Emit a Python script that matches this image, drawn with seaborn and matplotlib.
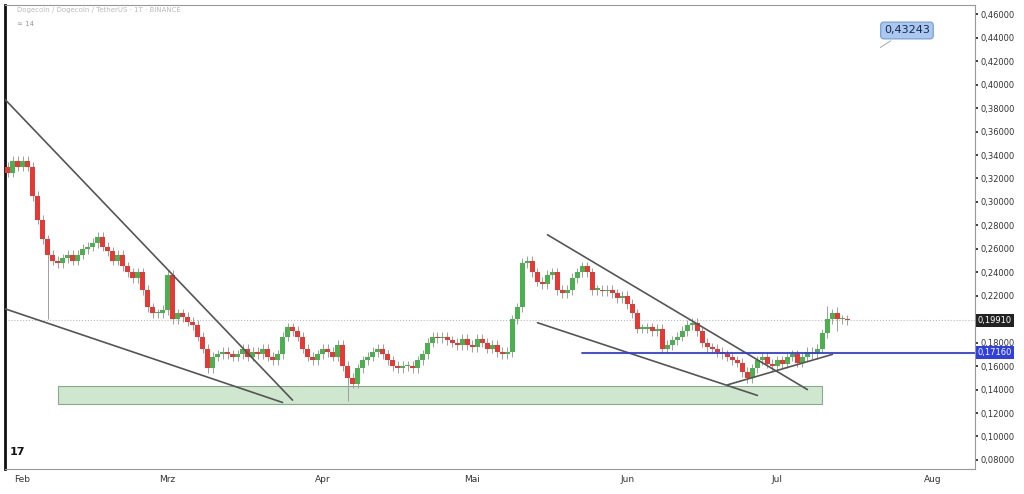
import pandas as pd
import numpy as np
import matplotlib
matplotlib.use("Agg")
import matplotlib.pyplot as plt
import matplotlib.dates as mdates
import seaborn as sns

sns.set_theme(style="white")
plt.rcParams['font.family'] = ['DejaVu Sans']

# Tagesschlusskurse DOGE/USDT, ab 28.01.2024
closes = [
    0.33, 0.325, 0.335, 0.33,
    # Feb
    0.335, 0.33, 0.305, 0.285, 0.268, 0.255, 0.25, 0.248, 0.252, 0.255, 0.25, 0.255, 0.26, 0.262, 0.265,
    0.27, 0.262, 0.258, 0.25, 0.255, 0.245, 0.24, 0.235, 0.24, 0.225, 0.21, 0.205, 0.205, 0.208,
    # Mrz
    0.238, 0.2, 0.205, 0.202, 0.198, 0.195, 0.185, 0.175, 0.158, 0.168, 0.17, 0.172, 0.17, 0.168, 0.17,
    0.175, 0.168, 0.172, 0.17, 0.175, 0.168, 0.165, 0.17, 0.185, 0.193, 0.19, 0.185, 0.175, 0.168, 0.165, 0.17,
    # Apr
    0.175, 0.172, 0.168, 0.178, 0.16, 0.15, 0.145, 0.158, 0.165, 0.168, 0.172, 0.175, 0.17, 0.165, 0.16,
    0.158, 0.16, 0.16, 0.158, 0.165, 0.17, 0.18, 0.185, 0.184, 0.185, 0.182, 0.18, 0.178, 0.183, 0.178,
    # Mai
    0.176, 0.183, 0.18, 0.175, 0.178, 0.172, 0.17, 0.172, 0.2, 0.21, 0.248, 0.25, 0.24, 0.232, 0.23,
    0.238, 0.24, 0.225, 0.222, 0.225, 0.235, 0.24, 0.245, 0.24, 0.225, 0.225, 0.224, 0.225, 0.222, 0.218, 0.22,
    # Jun
    0.213, 0.205, 0.192, 0.192, 0.193, 0.19, 0.192, 0.175, 0.178, 0.182, 0.185, 0.19, 0.195, 0.197, 0.19,
    0.18, 0.176, 0.175, 0.172, 0.17, 0.168, 0.165, 0.163, 0.155, 0.15, 0.158, 0.165, 0.168, 0.162, 0.16,
    # Jul
    0.165, 0.162, 0.168, 0.17, 0.163, 0.168, 0.172, 0.17, 0.175, 0.188, 0.2, 0.205, 0.2, 0.2, 0.199,
]
# lange Dochte (Datum -> (hoch, tief))
long_wicks = {
    '2024-02-06': (None, 0.200),
    '2024-04-06': (None, 0.130),
    '2024-07-11': (0.211, None),
    '2024-07-13': (0.210, 0.190),
}
wick = 0.004

dates = pd.date_range('2024-01-28', periods=len(closes), freq='D')
df = pd.DataFrame({'date': dates, 'close': closes})
df['open'] = df['close'].shift(1).fillna(0.328)
df['high'] = df[['open', 'close']].max(axis=1) + wick
df['low'] = df[['open', 'close']].min(axis=1) - wick
for d, (h, l) in long_wicks.items():
    i = df.index[df['date'] == pd.Timestamp(d)][0]
    if h is not None:
        df.loc[i, 'high'] = h
    if l is not None:
        df.loc[i, 'low'] = l
df['up'] = df['close'] >= df['open']

# Trendlinien
trend_lines = [
    (('2024-01-27', 0.394), ('2024-03-26', 0.131)),
    (('2024-01-27', 0.211), ('2024-03-24', 0.129)),
    (('2024-05-16', 0.272), ('2024-07-07', 0.140)),
    (('2024-05-14', 0.197), ('2024-06-27', 0.135)),
    (('2024-06-21', 0.144), ('2024-07-12', 0.170)),
]
zone = ('2024-02-08', '2024-07-10', 0.128, 0.143)
support = 0.1716
last_price = 0.1991

green, red = '#4caf50', '#e53935'

fig = plt.figure(figsize=(10.24, 4.94), dpi=100)
ax = fig.add_axes([0.005, 0.05, 0.947, 0.94])

x = mdates.date2num(df['date'])
colors = np.where(df['up'], green, red)
ax.vlines(x, df['low'], df['high'], color='#9e9e9e', linewidth=0.7, zorder=2)
body_h = (df['close'] - df['open']).abs().clip(lower=0.0012)
ax.bar(x, body_h, bottom=df[['open', 'close']].min(axis=1), width=0.85,
       color=colors, linewidth=0, zorder=3)

for (d0, p0), (d1, p1) in trend_lines:
    ax.plot([pd.Timestamp(d0), pd.Timestamp(d1)], [p0, p1], color='#555555', linewidth=1.2, zorder=4)

z0, z1 = pd.Timestamp(zone[0]), pd.Timestamp(zone[1])
ax.add_patch(plt.Rectangle((mdates.date2num(z0), zone[2]), mdates.date2num(z1) - mdates.date2num(z0),
                           zone[3] - zone[2], facecolor='#cfe6cf', edgecolor='#8aa88a', linewidth=0.8, zorder=1))

ax.axhline(last_price, color='#bbbbbb', linestyle=':', linewidth=0.8, zorder=1)
ax.plot([pd.Timestamp('2024-05-23'), pd.Timestamp('2024-08-20')], [support, support],
        color='#2f3fe0', linewidth=1.3, zorder=4)

ax.set_xlim(pd.Timestamp('2024-01-28 12:00'), pd.Timestamp('2024-08-09 12:00'))
ax.set_ylim(0.072, 0.468)
ax.yaxis.tick_right()
ticks = np.round(np.arange(0.08, 0.461, 0.02), 2)
ax.set_yticks(ticks)
ax.set_yticklabels(["" if abs(t - 0.20) < 1e-9 else f"{t:.5f}".replace('.', ',') for t in ticks],
                   fontsize=6, color='#333333')
month_ticks = pd.to_datetime(['2024-02-01', '2024-03-01', '2024-04-01', '2024-05-01',
                              '2024-06-01', '2024-07-01', '2024-08-01'])
ax.set_xticks(month_ticks)
ax.set_xticklabels(['Feb', 'Mrz', 'Apr', 'Mai', 'Jun', 'Jul', 'Aug'], fontsize=6.5, color='#333333')
ax.tick_params(axis='both', length=2, pad=2)
for s in ax.spines.values():
    s.set_color('#999999')
    s.set_linewidth(0.8)
ax.spines['left'].set_color('#111111')
ax.spines['left'].set_linewidth(2)

# Preislabels an der Achse
ax.text(1.003, last_price, '0,19910', transform=ax.get_yaxis_transform(), fontsize=6,
        color='white', va='center', ha='left', bbox=dict(boxstyle='square,pad=0.25', fc='#222222', ec='none'))
ax.text(1.003, support, '0,17160', transform=ax.get_yaxis_transform(), fontsize=6,
        color='white', va='center', ha='left', bbox=dict(boxstyle='square,pad=0.25', fc='#2f3fe0', ec='none'))

ax.annotate('0,43243', xy=(0.9, 0.905), xytext=(0.93, 0.945), xycoords='axes fraction',
            textcoords='axes fraction', fontsize=8, color='#1a2a4a', ha='center', va='center',
            bbox=dict(boxstyle='round,pad=0.3', fc='#aac8f0', ec='#7fa6da'),
            arrowprops=dict(arrowstyle='-', color='#999999', lw=0.6))

ax.text(0.012, 0.995, 'Dogecoin / Dogecoin / TetherUS · 1T · BINANCE', transform=ax.transAxes,
        fontsize=5, color='#bbbbbb', va='top')
ax.text(0.012, 0.965, '≈ 14', transform=ax.transAxes, fontsize=5, color='#999999', va='top')
ax.text(0.005, 0.03, '17', transform=ax.transAxes, fontsize=8, fontweight='bold', color='#111111')

fig.savefig('out.png', dpi=100, facecolor='white')
